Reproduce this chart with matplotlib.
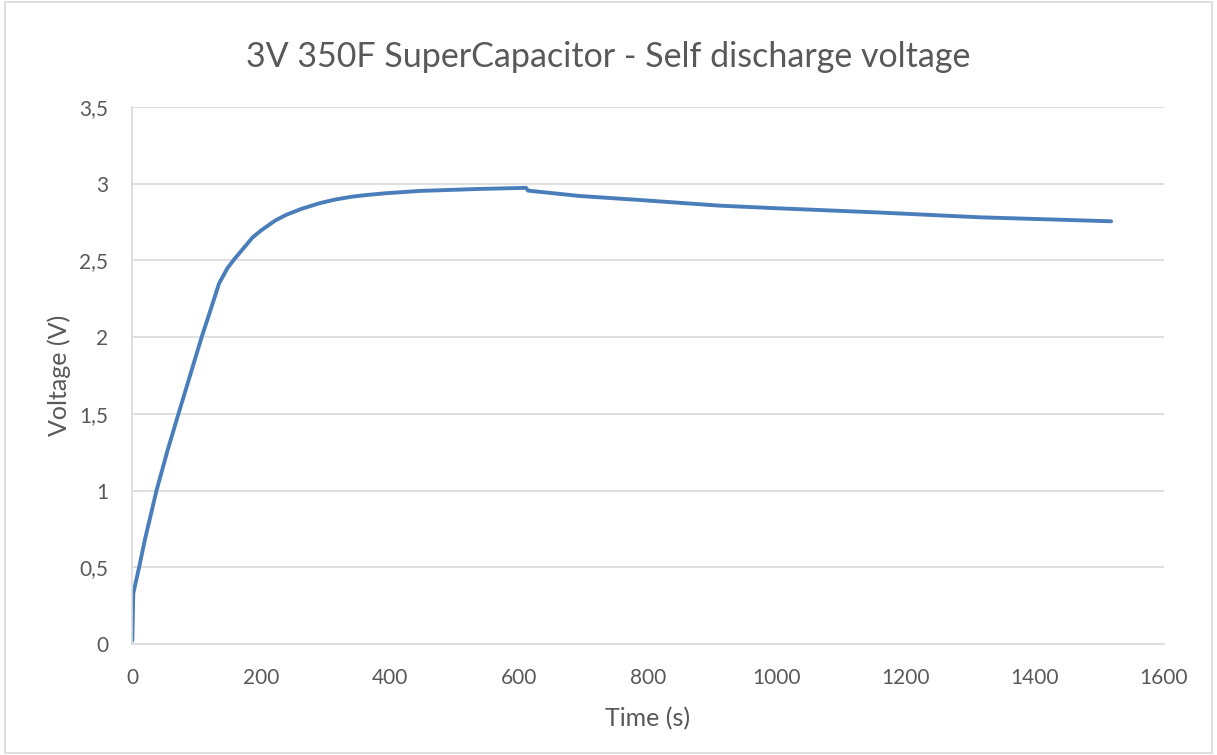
import matplotlib.pyplot as plt
from matplotlib.ticker import FuncFormatter

time_s = [0, 0.5, 2, 11, 20, 38, 55, 72, 90, 108, 122, 135, 148, 159, 172, 187,
          200, 222, 239, 262, 291, 315, 342, 365, 394, 446, 539, 611, 614, 694,
          787, 911, 1000, 1160, 1315, 1418, 1518]
voltage = [0.02, 0.03, 0.33, 0.5, 0.68, 1.0, 1.26, 1.5, 1.75, 2.0, 2.18, 2.35,
           2.45, 2.51, 2.575, 2.65, 2.695, 2.76, 2.797, 2.835, 2.873, 2.897,
           2.916, 2.927, 2.938, 2.953, 2.966, 2.973, 2.955, 2.92, 2.894, 2.857,
           2.84, 2.812, 2.781, 2.768, 2.755]

x_ticks = [0, 200, 400, 600, 800, 1000, 1200, 1400, 1600]
y_ticks = [0, 0.5, 1, 1.5, 2, 2.5, 3, 3.5]

plt.rcParams['font.family'] = ['Lato', 'DejaVu Sans']
txt = '#595959'
grid = '#d9d9d9'

fig = plt.figure(figsize=(12.17, 7.55), dpi=100)
ax = fig.add_axes([132 / 1217, 1 - 644 / 755, 1032 / 1217, 537 / 755])

ax.plot(time_s, voltage, color='#4a7ebb', lw=2.8, solid_capstyle='round',
        solid_joinstyle='round')

ax.set_xlim(0, 1600)
ax.set_ylim(0, 3.5)
ax.set_xticks(x_ticks)
ax.set_yticks(y_ticks)
ax.yaxis.set_major_formatter(FuncFormatter(lambda v, p: ('%g' % v).replace('.', ',')))
ax.grid(axis='y', color=grid, lw=1.2)
ax.set_axisbelow(True)
for s in ['top', 'right']:
    ax.spines[s].set_visible(False)
for s in ['left', 'bottom']:
    ax.spines[s].set_color(grid)
    ax.spines[s].set_linewidth(1.2)
ax.tick_params(axis='x', length=0, labelsize=15, colors=txt, pad=17)
ax.tick_params(axis='y', length=0, labelsize=15, colors=txt, pad=17)

ax.set_xlabel('Time (s)', fontsize=18, color=txt, labelpad=14)
ax.set_ylabel('Voltage (V)', fontsize=18, color=txt, labelpad=6)
fig.text(0.5, 1 - 57 / 755, '3V 350F SuperCapacitor - Self discharge voltage',
         ha='center', va='center', fontsize=24.5, color=txt)

# light border round the chart area
fig.patches.append(plt.Rectangle((0.004, 0.003), 0.992, 0.994, transform=fig.transFigure,
                                 fill=False, ec='#d9d9d9', lw=1.2))

fig.savefig('out.png', dpi=100)
